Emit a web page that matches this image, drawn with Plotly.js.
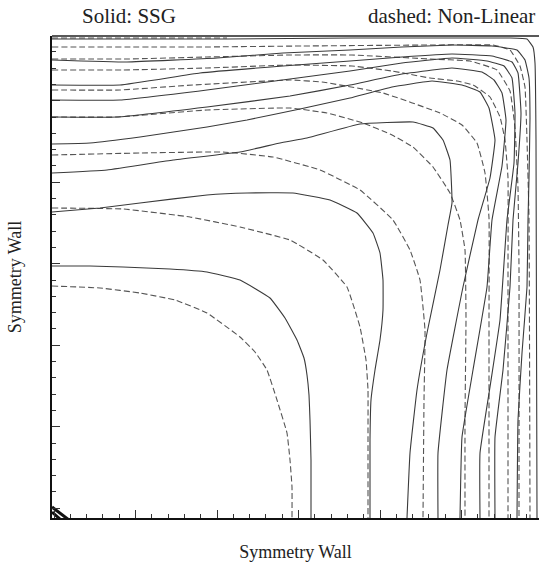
<!DOCTYPE html>
<html>
<head>
<meta charset="utf-8">
<script src="https://cdn.plot.ly/plotly-3.0.1.min.js"></script>
<style>html,body{margin:0;padding:0;background:#fff;}#chart{width:539px;height:565px;}</style>
</head>
<body>
<div id="chart"></div>
<script>
// Contour lines (units: distance from the duct centre, same scale on both axes)
// SSG model (solid)
const ssg1X = [0,38,71,118,155,188,218,233,245,252,255,257,258,259,259];
const ssg1Y = [252,252,251,249,246,238,220,200,178,160,143,123,98,58,0];
const ssg2X = [0,48,88,155,195,241,278,305,321,328,331,331,328,323,319,318,318];
const ssg2Y = [306,310,315,323,325,325,318,305,285,265,238,208,178,148,118,78,0];
const ssg3X = [0,55,121,188,228,255,308,361,381,391,398,400,396,388,375,365,358,355];
const ssg3Y = [345,348,358,366,375,380,394,396,390,378,358,315,293,248,185,128,65,0];
const ssg4X = [0,38,88,155,195,248,298,340,380,410,428,437,443,438,426,411,395,386,386];
const ssg4Y = [374,375,381,391,398,409,420,431,437,433,426,410,378,340,298,231,148,65,0];
const ssg5X = [0,65,155,238,298,350,400,430,442,450,454,450,440,435,421,410,408];
const ssg5Y = [401,401,411,422,433,444,450,446,438,425,398,352,298,231,148,81,0];
const ssg6X = [0,68,155,238,298,350,400,435,452,460,463,462,455,448,438,428,428];
const ssg6Y = [418,418,428,439,447,455,460,457,452,440,405,355,298,198,131,65,0];
const ssg7X = [0,68,148,231,298,350,400,440,460,466,469,466,461,458,451,443,443];
const ssg7Y = [433,433,445,452,457,461,464,462,456,445,405,355,298,231,148,81,0];
const ssg8X = [0,75,165,231,298,350,400,440,465,473,477,478,477,476,475,470,466,465];
const ssg8Y = [458,456,460,465,468,471,473,472,468,458,440,400,340,298,231,165,98,0];
const ssg9X = [0,175,300,400,458,475,481,483,484,485];
const ssg9Y = [479,479,480,480,480,479,471,455,378,0];

// Non-linear model (dashed)
const nl1X = [0,48,88,123,155,188,203,215,225,235,238,240,240];
const nl1Y = [232,230,225,218,205,181,166,148,118,85,58,31,0];
const nl2X = [0,71,138,188,238,271,295,308,314,316,316,316];
const nl2Y = [310,309,301,291,278,258,231,191,158,128,88,0];
const nl3X = [0,88,171,221,268,308,341,358,368,373,372,371];
const nl3Y = [363,365,366,361,348,328,298,268,238,188,118,0];
const nl4X = [0,65,155,238,275,311,340,361,381,398,408,413,414,413,413];
const nl4Y = [401,401,408,410,405,395,383,371,351,325,298,268,200,100,0];
const nl5X = [0,68,141,238,270,331,388,410,425,433,437,437,437];
const nl5Y = [428,428,433,438,436,425,405,393,375,345,300,200,0];
const nl6X = [0,71,155,238,300,340,378,405,421,438,448,453,456,456,456];
const nl6Y = [448,448,450,453,452,447,440,437,433,421,401,378,340,250,0];
const nl7X = [0,75,155,238,300,378,418,445,458,463,466,467,467];
const nl7Y = [459,459,461,463,463,459,457,448,427,390,330,250,0];
const nl8X = [0,150,250,378,441,458,468,473,475,477,478];
const nl8Y = [471,471,472,473,473,468,452,431,378,300,0];
const nl9X = [0,175];
const nl9Y = [480,480];

// short dark marks at the duct centre
const centreX = [0,17,null,0,9];
const centreY = [11,-2,null,6,-2];

const solidSets = [[ssg1X,ssg1Y],[ssg2X,ssg2Y],[ssg3X,ssg3Y],[ssg4X,ssg4Y],[ssg5X,ssg5Y],[ssg6X,ssg6Y],[ssg7X,ssg7Y],[ssg8X,ssg8Y],[ssg9X,ssg9Y]];
const dashSets = [[nl1X,nl1Y],[nl2X,nl2Y],[nl3X,nl3Y],[nl4X,nl4Y],[nl5X,nl5Y],[nl6X,nl6Y],[nl7X,nl7Y],[nl8X,nl8Y],[nl9X,nl9Y]];

const traces = [];
dashSets.forEach((s,i)=>traces.push({
  x:s[0], y:s[1], type:'scatter', mode:'lines', name:'Non-Linear '+(i+1),
  line:{color:'#555', width:1.1, dash:'6px,3px', shape:'spline', smoothing:0.3},
  hoverinfo:'skip', showlegend:false
}));
solidSets.forEach((s,i)=>traces.push({
  x:s[0], y:s[1], type:'scatter', mode:'lines', name:'SSG '+(i+1),
  line:{color:'#3a3a3a', width:1.1, shape:'spline', smoothing:0.3},
  hoverinfo:'skip', showlegend:false
}));
traces.push({x:centreX, y:centreY, type:'scatter', mode:'lines',
  line:{color:'#111', width:3}, hoverinfo:'skip', showlegend:false});

const serif = 'Liberation Serif, Times New Roman, serif';
const axisCommon = {
  showgrid:false, zeroline:false, showline:true, linecolor:'#111', linewidth:2,
  ticks:'inside', ticklen:8, tickwidth:1, tickcolor:'#333', showticklabels:false,
  fixedrange:true
};
const layout = {
  width:539, height:565,
  margin:{l:52, r:0, t:36, b:47},
  paper_bgcolor:'#fff', plot_bgcolor:'#fff',
  showlegend:false,
  xaxis:Object.assign({}, axisCommon, {
    range:[0,487], tick0:2, dtick:81.5,
    minor:{ticks:'inside', ticklen:4, tick0:2, dtick:16.3, tickcolor:'#333', tickwidth:1},
    title:{text:'Symmetry Wall', font:{family:serif, size:18, color:'#222'}, standoff:26}
  }),
  yaxis:Object.assign({}, axisCommon, {
    range:[0,482], tick0:9.8, dtick:81.5,
    minor:{ticks:'inside', ticklen:4, tick0:9.8, dtick:16.3, tickcolor:'#333', tickwidth:1},
    title:{text:'Symmetry Wall', font:{family:serif, size:18, color:'#222'}, standoff:24}
  }),
  shapes:[{type:'line', xref:'paper', yref:'paper', x0:0, x1:1, y0:1, y1:1,
    line:{color:'#222', width:1.6}}],
  annotations:[
    {text:'Solid: SSG', xref:'paper', yref:'paper', x:0.0575, y:1.042, xanchor:'left', yanchor:'middle',
     showarrow:false, font:{family:serif, size:21, color:'#222'}},
    {text:'dashed: Non-Linear', xref:'paper', yref:'paper', x:0.996, y:1.042, xanchor:'right', yanchor:'middle',
     showarrow:false, font:{family:serif, size:21, color:'#222'}}
  ]
};
Plotly.newPlot('chart', traces, layout, {displayModeBar:false, staticPlot:true});
</script>
</body>
</html>
